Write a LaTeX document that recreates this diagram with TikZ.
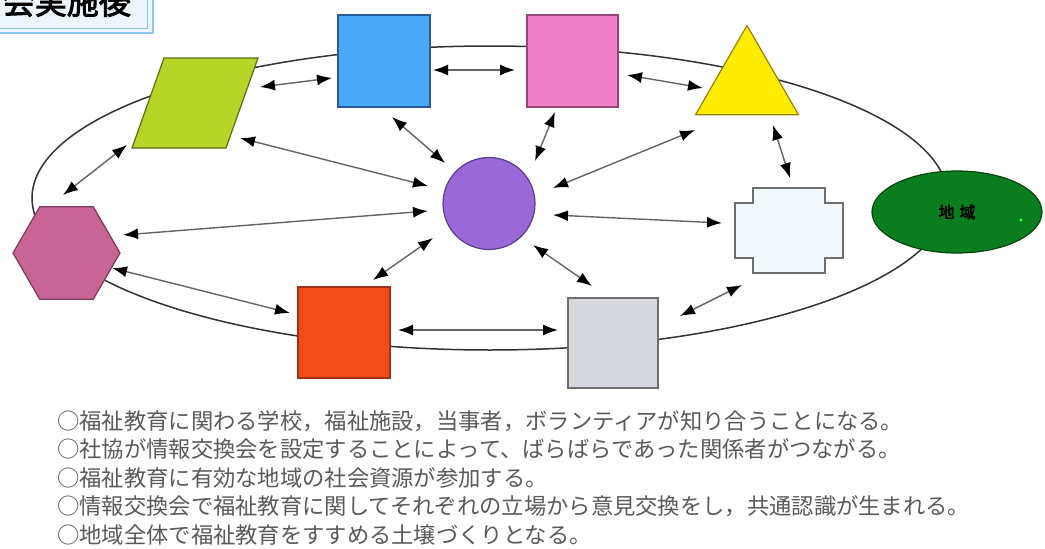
\documentclass[tikz,border=0pt]{standalone}
\usepackage{fontspec}
\newfontfamily\jp{Noto Sans CJK JP}
\newfontfamily\jpb[FakeBold=3]{Noto Sans CJK JP}
\usetikzlibrary{arrows.meta,shapes.geometric}
\definecolor{cblue}{RGB}{74,168,248}\definecolor{cblueD}{RGB}{40,90,150}
\definecolor{cpink}{RGB}{240,128,200}\definecolor{cpinkD}{RGB}{150,70,120}
\definecolor{cyel}{RGB}{255,236,0}\definecolor{cyelD}{RGB}{150,130,0}
\definecolor{clime}{RGB}{183,212,40}\definecolor{climeD}{RGB}{90,110,20}
\definecolor{chex}{RGB}{200,100,150}\definecolor{chexD}{RGB}{120,60,90}
\definecolor{cpur}{RGB}{155,105,215}\definecolor{cpurD}{RGB}{90,60,140}
\definecolor{ccross}{RGB}{240,248,252}\definecolor{ccrossD}{RGB}{110,110,110}
\definecolor{cgreen}{RGB}{10,125,30}\definecolor{cgreenD}{RGB}{5,70,15}
\definecolor{cred}{RGB}{243,75,25}\definecolor{credD}{RGB}{160,50,20}
\definecolor{cgrey}{RGB}{215,216,222}\definecolor{cgreyD}{RGB}{110,110,115}
\definecolor{ctitle}{RGB}{140,200,235}\definecolor{ctitleF}{RGB}{236,246,252}
\definecolor{ctext}{RGB}{90,90,90}
\definecolor{cline}{RGB}{100,100,100}
\tikzset{
  shp/.style={inner sep=0pt, outer sep=0pt, line width=1.2pt},
  sq/.style={shp, rectangle, minimum width=92pt, minimum height=92pt},
  biarrow/.style={{Latex[length=15pt,width=11pt,color=black]}-{Latex[length=15pt,width=11pt,color=black]}, line width=1.4pt, draw=cline},
}
\begin{document}
\begin{tikzpicture}[x=1pt,y=-1pt]
\useasboundingbox (0,0) rectangle (1045,549);
\fill[white] (0,0) rectangle (1045,549);
% title
\begin{scope}
\clip (0,0) rectangle (1045,549);
\draw[line width=1.6pt, draw=ctitle, fill=ctitleF] (-10,-10) rectangle (153,33);
\draw[line width=1pt, draw=ctitle] (-10,-10) rectangle (147,28);
\node[anchor=base east, inner sep=0pt, font=\jpb\fontsize{32}{32}\selectfont, text=black] (title) at (131,14) {会実施後};
\end{scope}
% ring
\node[shp, ellipse, minimum width=916pt, minimum height=304pt, draw=black!80, line width=1.5pt] (ringn) at (490,198) {};
% shapes
\node[sq, fill=cblue, draw=cblueD] (blue) at (384,61) {};
\node[sq, fill=cpink, draw=cpinkD, minimum width=91pt] (pink) at (572.5,61) {};
\node[shp, regular polygon, regular polygon sides=3, minimum size=119pt, fill=cyel, draw=cyelD] (tri) at (747,85) {};
\coordinate (para) at (195,103);
\draw[shp, fill=clime, draw=climeD] ([shift={(-31,-45)}]para) -- ([shift={(63,-45)}]para) -- ([shift={(31,45)}]para) -- ([shift={(-63,45)}]para) -- cycle;
\node[shp, regular polygon, regular polygon sides=6, minimum size=107pt, fill=chex, draw=chexD] (hex) at (66.5,253) {};
\node[shp, circle, minimum size=92pt, fill=cpur, draw=cpurD] (circ) at (489,203.5) {};
\coordinate (cross) at (789,230.5);
\draw[shp, fill=ccross, draw=ccrossD, line width=1.4pt] ([shift={(-36,-42.5)}]cross) -- ([shift={(36,-42.5)}]cross) -- ([shift={(36,-27.5)}]cross) -- ([shift={(54,-27.5)}]cross) -- ([shift={(54,27.5)}]cross) -- ([shift={(36,27.5)}]cross) -- ([shift={(36,42.5)}]cross) -- ([shift={(-36,42.5)}]cross) -- ([shift={(-36,27.5)}]cross) -- ([shift={(-54,27.5)}]cross) -- ([shift={(-54,-27.5)}]cross) -- ([shift={(-36,-27.5)}]cross) -- cycle;
\node[shp, ellipse, minimum width=170pt, minimum height=82pt, fill=cgreen, draw=cgreenD, font=\jpb\fontsize{16}{16}\selectfont, text=black] (green) at (957,212) {地\hspace{5pt}域};
\fill[green!70!white] ([shift={(64,8)}]green.center) circle (1.6pt);
\node[sq, fill=cred, draw=credD, minimum height=91pt] (red) at (344,332.5) {};
\node[sq, fill=cgrey, draw=cgreyD, minimum width=90pt, minimum height=90pt] (grey) at (613,343) {};
% arrows to centre
\draw[biarrow] ([shift={(45,35)}]para) -- ([shift={(-61,-17.5)}]circ.center);
\draw[biarrow] ([shift={(8,56)}]blue.center) -- ([shift={(-44,-40.5)}]circ.center);
\draw[biarrow] ([shift={(-17.5,51)}]pink.center) -- ([shift={(46,-42.5)}]circ.center);
\draw[biarrow] ([shift={(-52,45)}]tri.center) -- ([shift={(64,-15.5)}]circ.center);
\draw[biarrow] ([shift={(-67,-7.5)}]cross) -- ([shift={(64,11.5)}]circ.center);
\draw[biarrow] ([shift={(-21,-57)}]grey.center) -- ([shift={(44,41.5)}]circ.center);
\draw[biarrow] ([shift={(29,-52.5)}]red.center) -- ([shift={(-56,34.5)}]circ.center);
\draw[biarrow] ([shift={(56.5,-18)}]hex.center) -- ([shift={(-61,7.5)}]circ.center);
% arrows around
\draw[biarrow] ([shift={(49,9)}]blue.center) -- ([shift={(-57.5,9)}]pink.center);
\draw[biarrow] ([shift={(65,-16)}]para) -- ([shift={(-52,17)}]blue.center);
\draw[biarrow] ([shift={(54.5,14)}]pink.center) -- ([shift={(-44,3)}]tri.center);
\draw[biarrow] ([shift={(26,40)}]tri.center) -- ([shift={(1,-52.5)}]cross);
\draw[biarrow] ([shift={(-47,54.5)}]cross) -- ([shift={(67,-27)}]grey.center);
\draw[biarrow] ([shift={(54,-2.5)}]red.center) -- ([shift={(-55,-13)}]grey.center);
\draw[biarrow] ([shift={(45.5,15)}]hex.center) -- ([shift={(-54,-19.5)}]red.center);
\draw[biarrow] ([shift={(-3.5,-58)}]hex.center) -- ([shift={(-68,42)}]para);
% text
\node[anchor=north west, inner sep=0pt, align=left, text=ctext, font=\jp\fontsize{22.3}{28.5}\selectfont] (notes) at (57,410) {○福祉教育に関わる学校，福祉施設，当事者，ボランティアが知り合うことになる。\\○社協が情報交換会を設定することによって、ばらばらであった関係者がつながる。\\○福祉教育に有効な地域の社会資源が参加する。\\○情報交換会で福祉教育に関してそれぞれの立場から意見交換をし，共通認識が生まれる。\\○地域全体で福祉教育をすすめる土壌づくりとなる。};
\end{tikzpicture}
\end{document}
